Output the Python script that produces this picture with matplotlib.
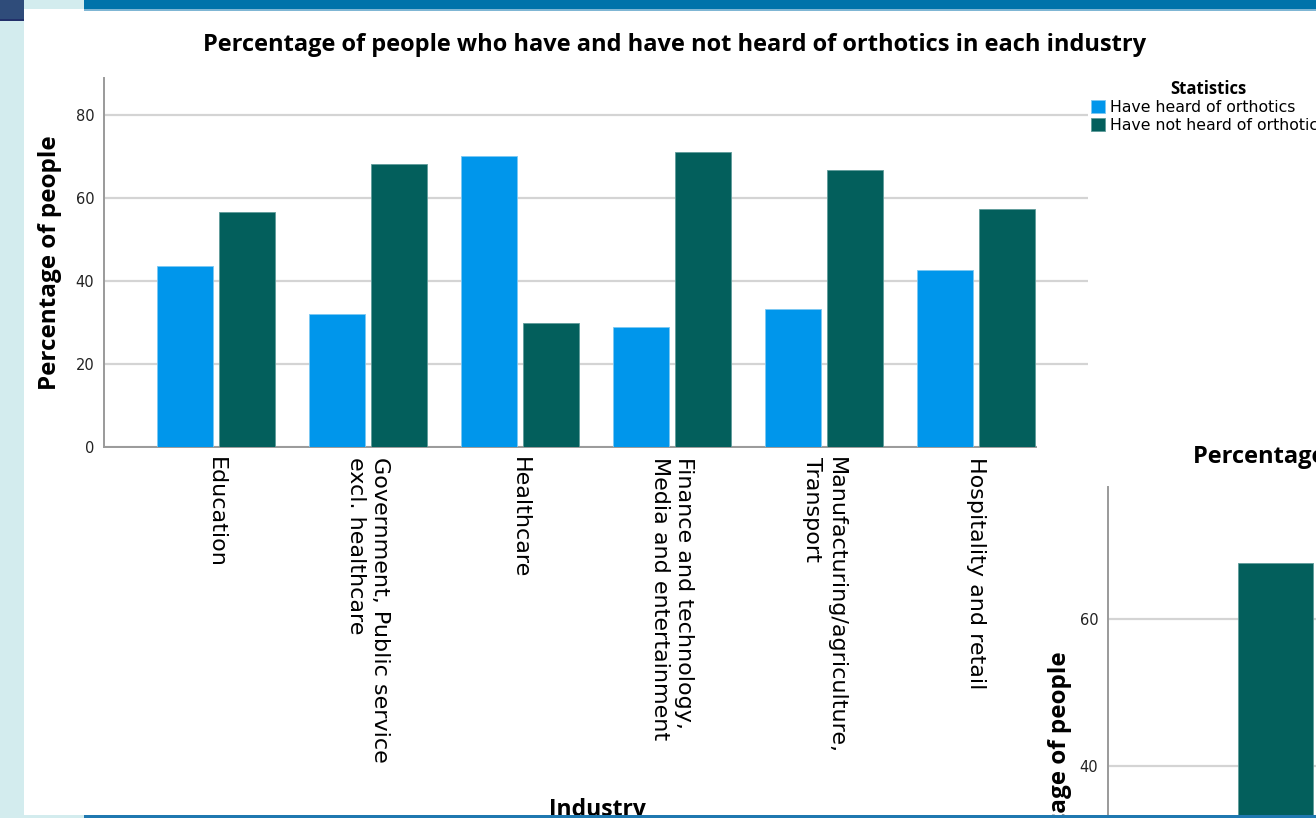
import numpy as np
import matplotlib
matplotlib.use("Agg")
import matplotlib.pyplot as plt
import matplotlib.transforms as mtransforms
from matplotlib.patches import Rectangle

# ---------------- data ----------------
industries = [
    "Education",
    "Government, Public service\nexcl. healthcare",
    "Healthcare",
    "Finance and technology,\nMedia and entertainment",
    "Manufacturing/agriculture,\nTransport",
    "Hospitality and retail",
]
heard = [43.6, 32.0, 70.1, 28.9, 33.3, 42.7]
not_heard = [56.6, 68.2, 29.9, 71.1, 66.7, 57.3]
series_labels = ["Have heard of orthotics", "Have not heard of orthotics"]
yticks = [0, 20, 40, 60, 80]

# second (partly hidden) chart, only first bar visible
second_values = [67.6]
second_yticks = [0, 20, 40, 60]

BLUE = "#0096EB"
GREEN = "#035F5C"
GRID = "#D4D4D4"
AXIS = "#9A9A9A"

W, H = 1316, 818
fig = plt.figure(figsize=(W / 100, H / 100), dpi=100)
fig.patch.set_facecolor("white")


def px_rect(x0, y0, w, h, color, z=0):
    # rectangle in pixel coords measured from the top-left corner
    r = Rectangle((x0 / W, 1 - (y0 + h) / H), w / W, h / H,
                  transform=fig.transFigure, facecolor=color,
                  edgecolor="none", zorder=z)
    fig.add_artist(r)


def ax_pos(x0, y_top, x1, y_bot):
    return [x0 / W, 1 - y_bot / H, (x1 - x0) / W, (y_bot - y_top) / H]


# slide decoration
px_rect(0, 0, 24, H, "#D3ECEE", 0)
px_rect(0, 0, 24, 20, "#2F4C7A", 0)
px_rect(0, 19, 24, 2, "#22306A", 0)
px_rect(24, 0, 60, 9, "#D3ECEE", 0)
px_rect(84, 0, W - 84, 9, "#0073AA", 0)
px_rect(84, 9, W - 84, 1.5, "#7FB6D4", 0)
px_rect(24, 815, 60, 3, "#D3ECEE", 0)
px_rect(84, 815, W - 84, 3, "#1F78B0", 10)

# ---------------- main chart ----------------
ax = fig.add_axes(ax_pos(104, 78, 1088, 447))
ax.set_zorder(1)
x = np.arange(len(industries))
bw = 0.37
off = 0.205
ax.bar(x - off, heard, bw, color=BLUE, edgecolor="#7CC8F2", linewidth=0.6,
       label=series_labels[0], zorder=3)
ax.bar(x + off, not_heard, bw, color=GREEN, edgecolor="#5F9C9A", linewidth=0.6,
       label=series_labels[1], zorder=3)

ax.set_xlim(-0.737, len(industries) - 1 + 0.737)
ax.set_ylim(0, 88.9)
ax.set_yticks(yticks)
ax.set_yticklabels([str(v) for v in yticks], fontsize=10.5, color="#222222")
ax.yaxis.grid(True, color=GRID, linewidth=1.6, zorder=0)
ax.set_axisbelow(True)
ax.set_xticks(x)
ax.set_xticklabels(industries, rotation=270, fontsize=16, ha="center", va="top")
shift = mtransforms.ScaledTranslation(-5 / 100, 0, fig.dpi_scale_trans)
for t in ax.get_xticklabels():
    t.set_multialignment("left")
    t.set_transform(t.get_transform() + shift)
ax.tick_params(axis="both", length=0)
ax.tick_params(axis="x", pad=7)
ax.tick_params(axis="y", pad=7)
for s in ["top", "right"]:
    ax.spines[s].set_visible(False)
for s in ["left", "bottom"]:
    ax.spines[s].set_color(AXIS)
    ax.spines[s].set_linewidth(1.4)

ax.set_ylabel("Percentage of people", fontsize=17.5, fontweight="bold",
              family="Open Sans", labelpad=10)

fig.text(675 / W, 1 - 45 / H,
         "Percentage of people who have and have not heard of orthotics in each industry",
         ha="center", va="center", fontsize=17, fontweight="bold", family="Open Sans")
fig.text(597 / W, 1 - 816 / H, "Industry", ha="center", va="baseline",
         fontsize=16.5, fontweight="bold", family="Open Sans")

leg = ax.legend(loc="upper left", bbox_to_anchor=(1091 / W, 1 - 80 / H),
                bbox_transform=fig.transFigure, frameon=False, fontsize=11.3,
                title="Statistics", handlelength=0.9, handleheight=0.9,
                handletextpad=0.3, labelspacing=0.15, borderpad=0,
                borderaxespad=0)
leg.get_title().set_fontweight("bold")
leg.get_title().set_fontfamily("Open Sans")
leg.get_title().set_fontsize(12)

# ---------------- second chart, pasted on top ----------------
px_rect(1037, 411, W - 1037, H - 411, "white", 2)

ax2 = fig.add_axes(ax_pos(1108, 487, 1808, 1060))
ax2.set_zorder(3)
ax2.patch.set_alpha(0)
ax2.bar([0], second_values, 0.5, color=GREEN, edgecolor="#5F9C9A",
        linewidth=0.6, zorder=3)
ax2.set_xlim(-1.117, 3.55)
ax2.set_ylim(0, 78)
ax2.set_yticks(second_yticks)
ax2.set_yticklabels([str(v) for v in second_yticks], fontsize=10.5, color="#222222")
ax2.yaxis.grid(True, color=GRID, linewidth=1.6, zorder=0)
ax2.set_axisbelow(True)
ax2.set_xticks([])
ax2.tick_params(axis="both", length=0, pad=7)
for s in ["top", "right"]:
    ax2.spines[s].set_visible(False)
for s in ["left", "bottom"]:
    ax2.spines[s].set_color(AXIS)
    ax2.spines[s].set_linewidth(1.4)

fig.text(1193 / W, 1 - 457 / H,
         "Percentage of people who have and have not heard of orthotics",
         ha="left", va="center", fontsize=17, fontweight="bold",
         family="Open Sans", zorder=4)
fig.text(1060 / W, 1 - 779 / H, "Percentage of people", rotation=90,
         ha="center", va="center", fontsize=17.5, fontweight="bold",
         family="Open Sans", zorder=4)

fig.savefig("out.png", dpi=100)
